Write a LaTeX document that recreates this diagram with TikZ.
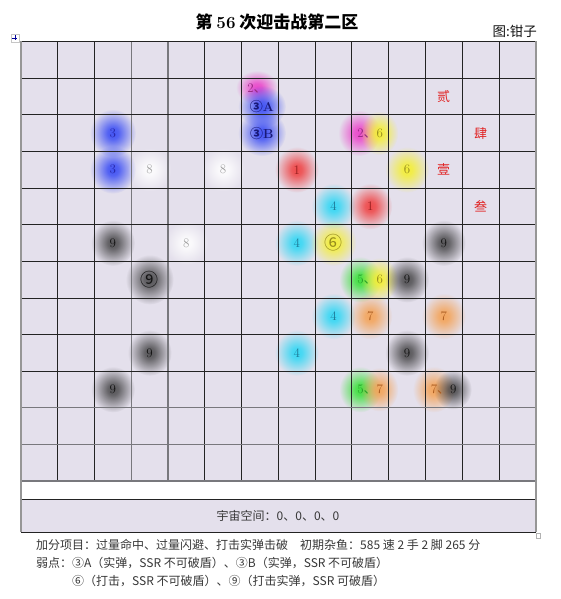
\documentclass[tikz,border=0pt]{standalone}
\usepackage{fontspec}
\usepackage{tikz}
\usetikzlibrary{calc, positioning, fadings}
\newfontfamily\cjk{Noto Sans CJK SC}

\definecolor{cellbg}{RGB}{228,224,236}
\definecolor{gridline}{RGB}{35,35,35}
\definecolor{gridsoft}{RGB}{120,120,125}
\definecolor{frameline}{RGB}{150,150,150}
\definecolor{glowmag}{RGB}{235,60,200}
\definecolor{glowblue}{RGB}{50,70,245}
\definecolor{glowyel}{RGB}{245,240,40}
\definecolor{glowred}{RGB}{240,60,60}
\definecolor{glowcyan}{RGB}{40,215,245}
\definecolor{glowblack}{RGB}{40,40,40}
\definecolor{glowwhite}{RGB}{255,255,255}
\definecolor{glowgreen}{RGB}{50,225,50}
\definecolor{gloworange}{RGB}{245,160,80}
\definecolor{txtmag}{RGB}{150,40,130}
\definecolor{txtnavy}{RGB}{25,25,120}
\definecolor{txtblue}{RGB}{40,40,170}
\definecolor{txtolive}{RGB}{150,140,30}
\definecolor{txtred}{RGB}{150,30,30}
\definecolor{txtteal}{RGB}{30,120,150}
\definecolor{txtdark}{RGB}{20,20,20}
\definecolor{txtgrey}{RGB}{160,160,160}
\definecolor{txtgreen}{RGB}{40,160,40}
\definecolor{txtbrown}{RGB}{170,90,30}
\definecolor{txtcjkred}{RGB}{225,35,35}

% soft halo behind the cell labels
\pgfdeclareradialshading{glowshade}{\pgfpointorigin}{color(0bp)=(white); color(6bp)=(white!90!black); color(25bp)=(black); color(50bp)=(black)}
\pgfdeclarefading{glowfade}{\pgfuseshading{glowshade}}

\def\cw{36.76}
\def\rh{36.625}
\tikzstyle{glow}=[path fading=glowfade, fill opacity=0.9]
\tikzstyle{darkglow}=[glow, fill opacity=0.75]
\tikzstyle{num}=[inner sep=0pt, font=\fontsize{13}{13}\selectfont]
\tikzstyle{note}=[anchor=west, inner sep=0pt, font=\cjk\fontsize{12}{12}\selectfont, text=txtdark!85!white]

\begin{document}
\begin{tikzpicture}[x=1pt, y=-1pt]
		\def\gx{21}
		\def\gy{41.5}
		\useasboundingbox (0,0) rectangle (561,599);

		% Fill the board and the two bands below it
		\fill[cellbg] (\gx,\gy) rectangle ({\gx+14*\cw},{\gy+12*\rh});
		\fill[white] (\gx,{\gy+12*\rh}) rectangle ({\gx+14*\cw},499.5);
		\fill[cellbg] (\gx,499.5) rectangle ({\gx+14*\cw},532);

		% Draw the glows
		\foreach \ci/\ri/\dx/\dy/\gc/\rx/\ry in {
			6/1/-3/-9/glowmag/21/17, 6/1/2/10/glowblue/24/21,
			2/2/0/0/glowblue/23/24, 6/2/2/0/glowblue/24/23,
			9/2/-11/0/glowmag/21/23, 9/2/9/0/glowyel/19/22,
			2/3/0/0/glowblue/23/24, 3/3/0/0/glowwhite/22/22,
			5/3/0/0/glowwhite/22/22, 7/3/0/0/glowred/22/23,
			10/3/0/0/glowyel/22/23,
			8/4/0/0/glowcyan/22/23, 9/4/0/0/glowred/22/23,
			4/5/0/0/glowwhite/22/22,
			7/5/0/0/glowcyan/22/23, 8/5/0/0/glowyel/23/23,
			9/6/-10/0/glowgreen/21/23, 9/6/9/0/glowyel/19/22,
			8/7/0/0/glowcyan/22/23, 9/7/0/0/gloworange/22/23,
			11/7/0/0/gloworange/22/23,
			7/8/0/0/glowcyan/22/23,
			9/9/-10/0/glowgreen/21/23,
			9/9/9/0/gloworange/19/22, 11/9/-10/0/gloworange/21/23}
		\fill[\gc, glow] ({\gx+\cw*(\ci+0.5)+\dx},{\gy+\rh*(\ri+0.5)+\dy}) ellipse ({\rx pt} and {\ry pt});
		\foreach \ci/\ri/\dx/\rx in {2/5/0/22, 11/5/0/22, 3/6/0/24, 10/6/0/22,
			3/8/0/22, 10/8/0/22, 2/9/0/22, 11/9/9/19}
		\fill[glowblack, darkglow] ({\gx+\cw*(\ci+0.5)+\dx},{\gy+\rh*(\ri+0.5)}) ellipse ({\rx pt} and {\rx pt+1pt});

		% Draw the grid lines
		\foreach \k in {1,2,5,6,...,13}
		\draw[gridline, line width=0.7pt] ({\gx+\cw*\k},\gy) -- ({\gx+\cw*\k},{\gy+12*\rh});
		\foreach \k in {3,4}
		\draw[gridsoft, line width=1.2pt] ({\gx+\cw*\k},\gy) -- ({\gx+\cw*\k},{\gy+12*\rh});
		\foreach \k in {1,...,9}
		\draw[gridline, line width=0.7pt] (\gx,{\gy+\rh*\k}) -- ({\gx+14*\cw},{\gy+\rh*\k});
		\foreach \k in {10,11,12}
		\draw[gridsoft, line width=1.2pt] (\gx,{\gy+\rh*\k}) -- ({\gx+14*\cw},{\gy+\rh*\k});

		% Frame of the table
		\draw[gridline, line width=0.8pt] (\gx,\gy) -- ({\gx+14*\cw},\gy);
		\draw[gridline, line width=0.8pt] (\gx,499.5) -- ({\gx+14*\cw},499.5);
		\draw[gridline, line width=0.8pt] (\gx,532) -- ({\gx+14*\cw},532);
		\draw[frameline, line width=1.8pt] (\gx,\gy) -- (\gx,532);
		\draw[frameline, line width=1.8pt] ({\gx+14*\cw},\gy) -- ({\gx+14*\cw},532);

		% Draw the cell labels
		\foreach \ci/\ri/\dx/\dy/\tc/\lab [count=\n] in {
			6/1/-3/-8/txtmag/{2{\cjk 、}},
			6/1/2/10/txtnavy/{{\cjk\bfseries ③}\textbf{A}},
			11/1/0/0/txtcjkred/{\cjk 贰},
			2/2/0/0/txtblue/3,
			6/2/2/0/txtnavy/{{\cjk\bfseries ③}\textbf{B}},
			9/2/0/0/txtolive/{\textcolor{txtmag}{2\cjk 、}6},
			12/2/0/0/txtcjkred/{\cjk 肆},
			2/3/0/0/txtblue/3, 3/3/0/0/txtgrey/8, 5/3/0/0/txtgrey/8,
			7/3/0/0/txtred/1, 10/3/0/0/txtolive/6,
			11/3/0/0/txtcjkred/{\cjk 壹},
			8/4/0/0/txtteal/4, 9/4/0/0/txtred/1,
			12/4/0/0/txtcjkred/{\cjk 叁},
			2/5/0/0/txtdark/9, 4/5/0/0/txtgrey/8, 7/5/0/0/txtteal/4,
			8/5/0/0/txtolive/{\cjk\fontsize{18}{18}\selectfont ⑥},
			11/5/0/0/txtdark/9,
			3/6/0/0/txtdark/{\cjk\fontsize{18}{18}\selectfont ⑨},
			9/6/0/0/txtolive/{\textcolor{txtgreen}{5\cjk 、}6},
			10/6/0/0/txtdark/9,
			8/7/0/0/txtteal/4, 9/7/0/0/txtbrown/7, 11/7/0/0/txtbrown/7,
			3/8/0/0/txtdark/9, 7/8/0/0/txtteal/4, 10/8/0/0/txtdark/9,
			2/9/0/0/txtdark/9,
			9/9/0/0/txtbrown/{\textcolor{txtgreen}{5\cjk 、}7},
			11/9/0/0/txtdark/{\textcolor{txtbrown}{7\cjk 、}9}}
		\node[num, text=\tc] (lab\n) at ({\gx+\cw*(\ci+0.5)+\dx},{\gy+\rh*(\ri+0.5)+\dy}) {\lab};

		% Title and credit
		\node[font=\cjk\bfseries\fontsize{17}{17}\selectfont] (title) at (277,22) {第 {\rmfamily 56} 次迎击战第二区};
		\node[anchor=east, inner sep=0pt, font=\cjk\fontsize{13.5}{13.5}\selectfont, text=txtdark] (credit) at (537,31) {图:钳子};

		% Word table handles
		\node[draw=gray!45, fill=white, minimum size=8pt, inner sep=0pt] (move) at (15,38) {};
		\draw[blue!60!black, line width=0.6pt] (move.north) ++(0,1.5) -- ++(0,5);
		\draw[blue!60!black, line width=0.6pt] (move.west) ++(1.5,0) -- ++(5,0);
		\node[draw=gray!60, fill=white, minimum size=4.5pt, inner sep=0pt] (resize) at (538,535.5) {};

		% Band text and notes
		\node[font=\cjk\fontsize{12}{12}\selectfont, text=txtdark!85!white] (space) at (278,516) {宇宙空间：0、0、0、0};
		\node[note] (bonus) at (36,545) {加分项目：过量命中、过量闪避、打击实弹击破　初期杂鱼：585 速 2 手 2 脚 265 分};
		\node[note] (weak) at (36,563) {弱点：③A（实弹，SSR 不可破盾）、③B（实弹，SSR 不可破盾）};
		\node[note] (weakmore) at (72,581) {⑥（打击，SSR 不可破盾）、⑨（打击实弹，SSR 可破盾）};

	\end{tikzpicture}
\end{document}
